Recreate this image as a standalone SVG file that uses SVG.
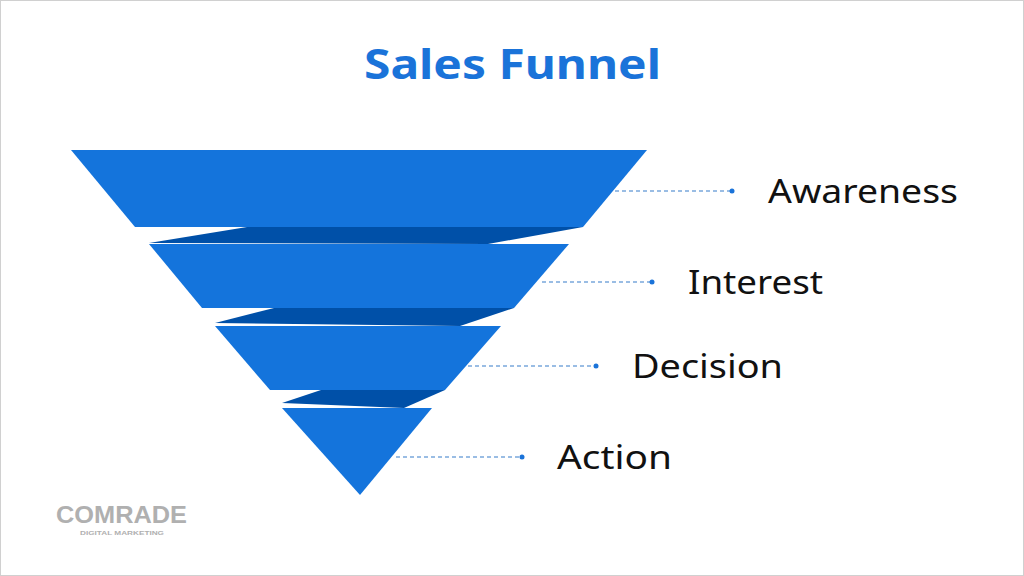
<svg xmlns="http://www.w3.org/2000/svg" width="1024" height="576" viewBox="0 0 1024 576">
<style>
.band{fill:#1474dc}.dark{fill:#0050a8}
.lead{stroke:#7aa8dc;stroke-width:1.5;stroke-dasharray:4 3;fill:none}
.dot{fill:#1a73d9}
.lbl{font-family:"Noto Sans","Open Sans",sans-serif;font-size:33px;fill:#111}
</style>
<rect x="0.5" y="0.5" width="1023" height="575" fill="#fff" stroke="#d0d0d0"/>
<text x="364" y="79" textLength="297" lengthAdjust="spacingAndGlyphs" font-family="'Noto Sans','Open Sans',sans-serif" font-weight="bold" font-size="42" fill="#1a73d9">Sales Funnel</text>
<g id="funnel">
<polygon class="dark" points="247,227 583,227 488,244 149,243"/>
<polygon class="dark" points="274,308 514,308 460,326 215,323"/>
<polygon class="dark" points="321,390 445,390 404,408 282,403"/>
<g id="awareness-band"><polygon class="band" points="71,150 647,150 583,227 135,227"/></g>
<g id="interest-band"><polygon class="band" points="149,244 569,244 514,308 202,308"/></g>
<g id="decision-band"><polygon class="band" points="215,326 501,326 445,390 270,390"/></g>
<g id="action-band"><polygon class="band" points="282,408 432,408 360,495"/></g>
</g>
<g id="connectors">
<line class="lead" x1="615" y1="191" x2="730" y2="191"/><circle class="dot" cx="732" cy="191" r="2.5"/>
<line class="lead" x1="542" y1="282" x2="650" y2="282"/><circle class="dot" cx="652" cy="282" r="2.5"/>
<line class="lead" x1="468" y1="366" x2="594" y2="366"/><circle class="dot" cx="596" cy="366" r="2.5"/>
<line class="lead" x1="396" y1="457" x2="520" y2="457"/><circle class="dot" cx="522" cy="457" r="2.5"/>
</g>
<g id="labels">
<text class="lbl" x="768" y="203" textLength="190" lengthAdjust="spacingAndGlyphs">Awareness</text>
<text class="lbl" x="688" y="294" textLength="135" lengthAdjust="spacingAndGlyphs">Interest</text>
<text class="lbl" x="632" y="378" textLength="151" lengthAdjust="spacingAndGlyphs">Decision</text>
<text class="lbl" x="557" y="469" textLength="115" lengthAdjust="spacingAndGlyphs">Action</text>
</g>
<g id="logo" font-family="'Liberation Sans',sans-serif" font-weight="bold" fill="#b0b0b0">
<text x="56" y="523" textLength="131" lengthAdjust="spacingAndGlyphs" font-size="23">COMRADE</text>
<text x="80" y="535" textLength="84" lengthAdjust="spacingAndGlyphs" font-size="6">DIGITAL MARKETING</text>
</g>
</svg>
